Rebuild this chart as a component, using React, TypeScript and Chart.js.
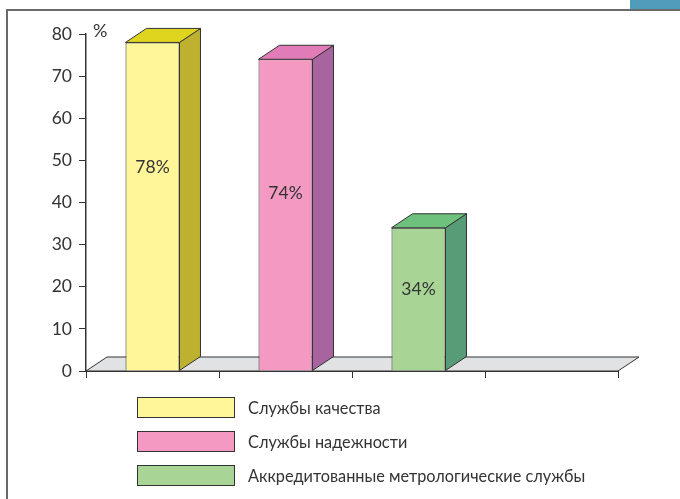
import React, { useEffect, useRef } from "react";
import { Chart, registerables } from "chart.js";

Chart.register(...registerables);

const categories = ["Службы качества", "Службы надежности", "Аккредитованные метрологические службы", ""];
const values: (number | null)[] = [78, 74, 34, null];
const valueLabels = ["78%", "74%", "34%", ""];
const labelPositionFraction = [0.62, 0.57, 0.57, 0];
const yTicks = [0, 10, 20, 30, 40, 50, 60, 70, 80];
const legendItems = ["Службы качества", "Службы надежности", "Аккредитованные метрологические службы"];

const frontColors = ["#FFF599", "#F49AC2", "#A8D596", "#ffffff"];
const sideColors = ["#BFB130", "#A8649E", "#579C77", "#ffffff"];
const topColors = ["#E0D51E", "#E27CB8", "#6DC17C", "#ffffff"];

const FONT = "Lato, 'Open Sans', sans-serif";
const DX = 21;
const DY = -14;

const decorPlugin = {
  id: "decor",
  beforeDraw(chart: any) {
    const ctx = chart.ctx;
    ctx.save();
    ctx.fillStyle = "#ffffff";
    ctx.fillRect(0, 0, chart.width, chart.height);
    ctx.strokeStyle = "#6a6a6a";
    ctx.lineWidth = 2;
    ctx.beginPath();
    ctx.moveTo(7, chart.height);
    ctx.lineTo(7, 10);
    ctx.lineTo(chart.width, 10);
    ctx.stroke();
    ctx.fillStyle = "#4F9DBB";
    ctx.fillRect(630, 0, 50, 9);
    ctx.restore();
  },
  beforeDatasetsDraw(chart: any) {
    const ctx = chart.ctx;
    const a = chart.chartArea;
    ctx.save();
    ctx.fillStyle = "#E1E2E4";
    ctx.strokeStyle = "#333";
    ctx.lineWidth = 1;
    ctx.beginPath();
    ctx.moveTo(a.left, a.bottom);
    ctx.lineTo(a.left + DX, a.bottom + DY);
    ctx.lineTo(a.right + DX, a.bottom + DY);
    ctx.lineTo(a.right, a.bottom);
    ctx.closePath();
    ctx.fill();
    ctx.stroke();
    ctx.restore();
  },
  afterDatasetsDraw(chart: any) {
    const ctx = chart.ctx;
    const meta = chart.getDatasetMeta(0);
    const yScale = chart.scales.y;
    ctx.save();
    ctx.strokeStyle = "#333";
    ctx.lineWidth = 1;
    ctx.lineJoin = "round";
    meta.data.forEach((bar: any, i: number) => {
      if (values[i] == null) return;
      const p = bar.getProps(["x", "y", "base", "width"], true);
      const xl = p.x - p.width / 2;
      const xr = p.x + p.width / 2;
      const top = p.y;
      const base = p.base;
      ctx.fillStyle = sideColors[i];
      ctx.beginPath();
      ctx.moveTo(xr, top);
      ctx.lineTo(xr + DX, top + DY);
      ctx.lineTo(xr + DX, base + DY);
      ctx.lineTo(xr, base);
      ctx.closePath();
      ctx.fill();
      ctx.stroke();
      ctx.fillStyle = topColors[i];
      ctx.beginPath();
      ctx.moveTo(xl, top);
      ctx.lineTo(xl + DX, top + DY);
      ctx.lineTo(xr + DX, top + DY);
      ctx.lineTo(xr, top);
      ctx.closePath();
      ctx.fill();
      ctx.stroke();
      ctx.fillStyle = "#333";
      ctx.font = `17.5px ${FONT}`;
      ctx.textAlign = "center";
      ctx.textBaseline = "middle";
      const ly = yScale.getPixelForValue((values[i] as number) * labelPositionFraction[i]);
      ctx.fillText(valueLabels[i], p.x, ly);
    });
    ctx.restore();
  },
  afterDraw(chart: any) {
    const ctx = chart.ctx;
    const a = chart.chartArea;
    ctx.save();
    ctx.fillStyle = "#333";
    ctx.font = `18px ${FONT}`;
    ctx.textAlign = "left";
    ctx.textBaseline = "middle";
    ctx.fillText("%", a.left + 7, a.top - 3);
    const boxX = 137;
    const boxW = 97;
    const boxH = 20;
    const startY = 397;
    const gap = 34;
    legendItems.forEach((t, i) => {
      const y = startY + i * gap;
      ctx.fillStyle = frontColors[i];
      ctx.fillRect(boxX, y, boxW, boxH);
      ctx.strokeStyle = "#333";
      ctx.lineWidth = 1;
      ctx.strokeRect(boxX + 0.5, y + 0.5, boxW, boxH);
      ctx.fillStyle = "#333";
      ctx.font = `16.3px ${FONT}`;
      ctx.fillText(t, 248, y + boxH / 2 + 2);
    });
    ctx.restore();
  },
};

export default function App() {
  const ref = useRef<HTMLCanvasElement>(null);
  useEffect(() => {
    if (!ref.current) return;
    const chart = new Chart(ref.current, {
      type: "bar",
      data: {
        labels: categories,
        datasets: [
          {
            data: values as any,
            backgroundColor: frontColors,
            borderColor: "#333",
            borderWidth: 1,
            barPercentage: 0.406,
            categoryPercentage: 1,
          },
        ],
      },
      options: {
        animation: false,
        responsive: false,
        layout: { padding: { left: 0, right: 62, top: 34, bottom: 0 } },
        plugins: { legend: { display: false }, tooltip: { enabled: false } },
        scales: {
          x: {
            ticks: { display: false },
            grid: { offset: true, drawOnChartArea: false, tickLength: 7, color: "#333", lineWidth: 1 },
            border: { color: "#333", width: 2 },
            afterFit: (s: any) => {
              s.height = 128;
            },
          },
          y: {
            min: 0,
            max: 80,
            afterBuildTicks: (s: any) => {
              s.ticks = yTicks.map((v) => ({ value: v }));
            },
            ticks: { color: "#333", font: { size: 17.5, family: FONT }, padding: 7 },
            grid: { drawOnChartArea: false, tickLength: 7, color: "#333", lineWidth: 1 },
            border: { color: "#333", width: 1.5 },
            afterFit: (s: any) => {
              s.width = 86;
            },
          },
        },
      },
      plugins: [decorPlugin],
    });
    return () => chart.destroy();
  }, []);
  return (
    <div style={{ position: "fixed", left: 0, top: 0, width: 680, height: 499 }}>
      <canvas ref={ref} width={680} height={499} style={{ width: 680, height: 499 }} />
    </div>
  );
}
